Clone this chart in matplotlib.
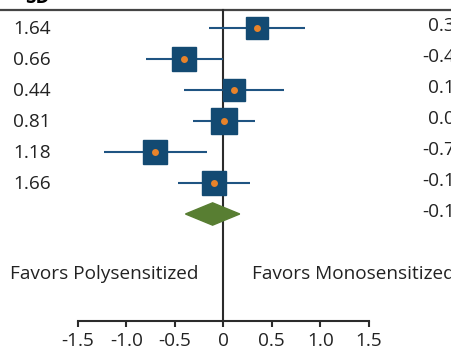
import numpy as np
import matplotlib.pyplot as plt
from matplotlib.patches import Polygon

plt.rcParams['font.family'] = ['Open Sans', 'DejaVu Sans']

# study rows (top to bottom)
sd_values = ['1.64', '0.66', '0.44', '0.81', '1.18', '1.66']
mean_diff = [0.35, -0.40, 0.11, 0.01, -0.70, -0.10]
ci_low = [-0.15, -0.80, -0.40, -0.31, -1.23, -0.47]
ci_high = [0.84, 0.00, 0.63, 0.33, -0.17, 0.28]
weights = [0.9, 1.0, 0.9, 1.03, 1.0, 1.0]

# pooled estimate
pooled = -0.11
pooled_low = -0.39
pooled_high = 0.17

x_ticks = [-1.5, -1.0, -0.5, 0, 0.5, 1.0, 1.5]
x_tick_labels = ['-1.5', '-1.0', '-0.5', '0', '0.5', '1.0', '1.5']

navy = '#134a72'
orange = '#e8832a'
green = '#587e32'
dark = '#2b2b2b'
fs = 13.7

fig = plt.figure(figsize=(4.52, 3.49), dpi=100)
ax = fig.add_axes([0, 0, 1, 1])
ax.set_xlim(-2.302, 2.358)
ax.set_ylim(10.355, -0.903)

rows = np.arange(len(mean_diff))
pooled_row = len(mean_diff)
axis_y = 9.44
top_y = -0.58

# header rule and zero line
ax.axhline(top_y, color='#444444', lw=1.6, zorder=1)
ax.plot([0, 0], [top_y, axis_y], color=dark, lw=1.5, zorder=1)

# confidence intervals, squares, points
ax.hlines(rows, ci_low, ci_high, color='#1f5482', lw=1.5, zorder=2)
for yi, m, w in zip(rows, mean_diff, weights):
    ax.plot(m, yi, 's', ms=17.5 * w, color=navy, mec=navy, zorder=3)
ax.plot(mean_diff, rows, 'o', ms=5, color=orange, mec='none', zorder=4)

# pooled diamond
h = 0.36
diamond = Polygon([[pooled_low, pooled_row], [pooled, pooled_row - h],
                   [pooled_high, pooled_row], [pooled, pooled_row + h]],
                  closed=True, facecolor=green, edgecolor=green, zorder=3)
ax.add_patch(diamond)

# text columns (the chart is cropped, so some text runs off the edges)
ax.text(-2.04, -0.806, 'SD', fontsize=fs, fontweight='bold', va='baseline')
for yi, s in zip(rows, sd_values):
    ax.text(-2.168, yi + 0.2, s, fontsize=fs, color='#222222', va='baseline')
for yi, v in zip(list(rows) + [pooled_row], mean_diff + [pooled]):
    ax.text(2.50, yi + 0.087, f'{v:.2f}', fontsize=fs, color='#222222',
            va='baseline', ha='right')

ax.text(-2.199, 8.10, 'Favors Polysensitized', fontsize=fs, color='#222222', va='baseline')
ax.text(0.293, 8.10, 'Favors Monosensitized', fontsize=fs, color='#222222', va='baseline')

# x axis
for side in ['left', 'right', 'top']:
    ax.spines[side].set_visible(False)
ax.spines['bottom'].set_position(('data', axis_y))
ax.spines['bottom'].set_bounds(-1.5, 1.5)
ax.spines['bottom'].set_linewidth(1.5)
ax.spines['bottom'].set_color(dark)
ax.set_yticks([])
ax.set_xticks(x_ticks)
ax.set_xticklabels(x_tick_labels)
ax.tick_params(axis='x', direction='out', length=4.5, width=1.5, pad=4,
               labelsize=fs, color=dark, labelcolor='#222222')

fig.savefig('out.png', dpi=100)
